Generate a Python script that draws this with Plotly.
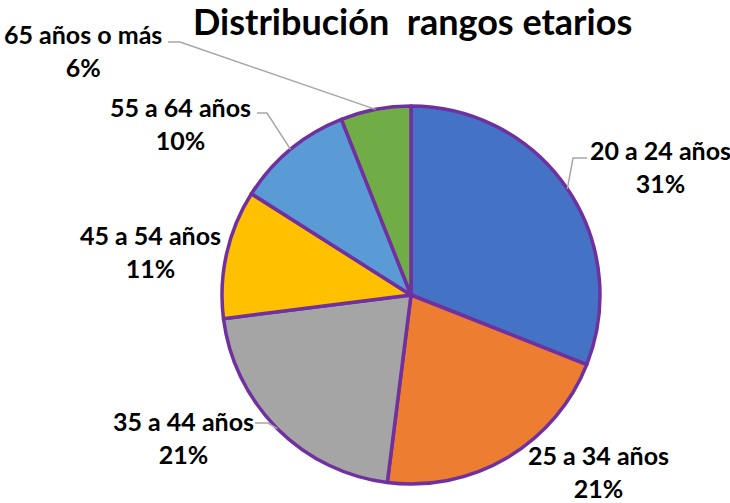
import math
import plotly.graph_objects as go

categories = ["20 a 24 años", "25 a 34 años", "35 a 44 años", "45 a 54 años", "55 a 64 años", "65 años o más"]
values = [31, 21, 21, 11, 10, 6]
colors = ["#4472C4", "#ED7D31", "#A5A5A5", "#FFC000", "#5B9BD5", "#70AD47"]
title_text = "Distribución  rangos etarios"

W, H = 730, 503
CX, CY, R = 411, 295, 189

# label centres (px) and leader line (start, elbow) or None
label_pos = [(660, 166), (598, 471), (183, 437), (150, 251), (180, 123), (83, 51)]
leader = [((587, 158), (573, 158)), None, ((255, 423), (268, 423)), None,
          ((257, 113), (267, 113)), ((168, 42), (180, 42))]

def px(x, y):
    return x / W, 1 - y / H

fig = go.Figure()
x0, _ = px(CX - R, 0)
x1, _ = px(CX + R, 0)
_, y0 = px(0, CY + R)
_, y1 = px(0, CY - R)
fig.add_trace(go.Pie(
    labels=categories, values=values, sort=False, direction="clockwise", rotation=0,
    marker=dict(colors=colors, line=dict(color="#7030A0", width=3.5)),
    textinfo="none", hoverinfo="label+percent", showlegend=False,
    domain=dict(x=[x0, x1], y=[y0, y1]),
))

total = sum(values)
cum = 0
shapes = []
annotations = []
for i, (cat, v) in enumerate(zip(categories, values)):
    mid = (cum + v / 2) / total * 2 * math.pi
    cum += v
    ex = CX + R * math.sin(mid)
    ey = CY - R * math.cos(mid)
    lx, ly = label_pos[i]
    pct = round(v / total * 100)
    ax, ay = px(lx, ly)
    annotations.append(dict(
        x=ax, y=ay, xref="paper", yref="paper", showarrow=False,
        text=f"{cat}<br>{pct}%", align="center",
        font=dict(family="Lato", size=25, color="#000000", weight="bold"),
        xanchor="center", yanchor="middle",
    ))
    if leader[i]:
        (sx, sy), (bx, by) = leader[i]
        pts = [(sx, sy), (bx, by), (ex, ey)]
        path = "M " + " L ".join(f"{px(a, b)[0]},{px(a, b)[1]}" for a, b in pts)
        shapes.append(dict(type="path", xref="paper", yref="paper", path=path,
                           line=dict(color="#A6A6A6", width=1.5)))

tx, ty = px(412, 21)
annotations.append(dict(
    x=tx, y=ty, xref="paper", yref="paper", showarrow=False, text=title_text,
    font=dict(family="Lato", size=36, color="#000000", weight="bold"),
    xanchor="center", yanchor="middle",
))

fig.update_layout(
    width=W, height=H, margin=dict(l=0, r=0, t=0, b=0),
    paper_bgcolor="white", plot_bgcolor="white",
    shapes=shapes, annotations=annotations,
)
fig.write_html("out.html", config={"displayModeBar": False},
               post_script="document.body.style.margin='0';")
